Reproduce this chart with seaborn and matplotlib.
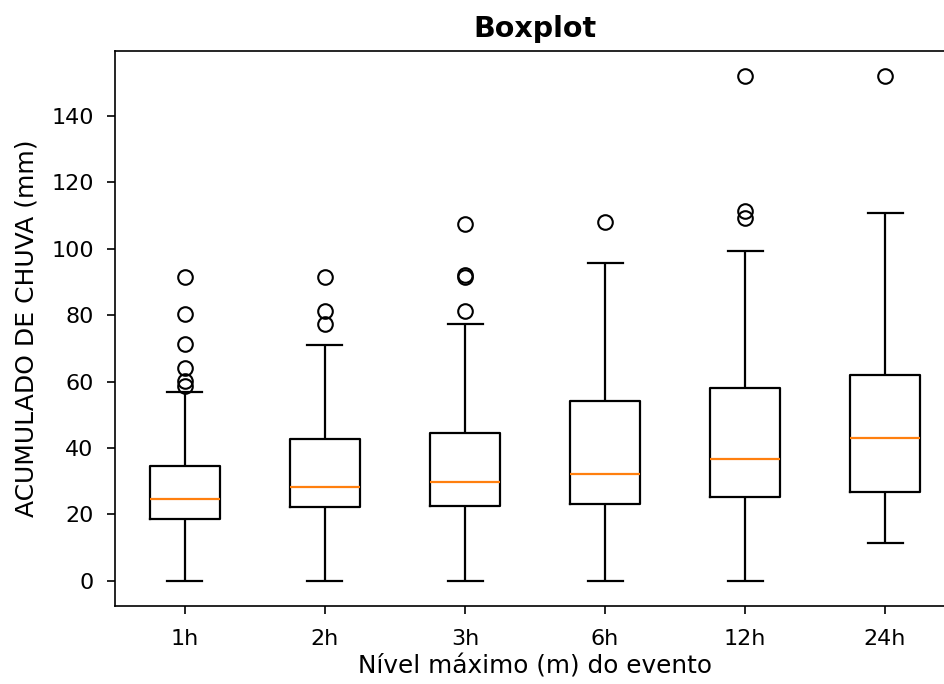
import numpy as np
import pandas as pd
import seaborn as sns
import matplotlib
matplotlib.use("Agg")
import matplotlib.pyplot as plt

# valores (mm)
duracoes = ["1h", "2h", "3h", "6h", "12h", "24h"]
bigode_inf = [0.0, 0.0, 0.0, 0.0, 0.0, 11.4]
q1 = [18.5, 22.2, 22.6, 23.0, 25.3, 26.9]
mediana = [24.5, 28.3, 29.8, 32.1, 36.8, 42.9]
q3 = [34.5, 42.7, 44.6, 54.3, 58.2, 61.9]
bigode_sup = [56.8, 71.0, 77.3, 95.7, 99.5, 110.9]
outliers_1h = [58.8, 60.3, 64.0, 71.4, 80.5, 91.5]
outliers_2h = [77.5, 81.2, 91.5]
outliers_3h = [81.3, 91.5, 92.2, 107.6]
outliers_6h = [108.0]
outliers_12h = [109.3, 111.5, 152.0]
outliers_24h = [152.0]
outliers = [outliers_1h, outliers_2h, outliers_3h, outliers_6h, outliers_12h, outliers_24h]

# amostra em que os quartis caem exatamente nos valores lidos (n = 4k+1)
rows = []
for i, d in enumerate(duracoes):
    topo = [bigode_sup[i]] + outliers[i]
    k = len(topo)
    valores = [bigode_inf[i]] + [q1[i]] * k + [mediana[i]] * k + [q3[i]] * k + topo
    for v in valores:
        rows.append({"duracao": d, "chuva": v})
df = pd.DataFrame(rows)

plt.rcParams["font.family"] = ["DejaVu Sans"]

fig = plt.figure(figsize=(9.44, 6.84), dpi=100)
ax = fig.add_axes([0.1218, 0.114, 0.8899, 0.8114])

lw = 1.6
sns.boxplot(data=df, x="duracao", y="chuva", order=duracoes, width=0.5,
            fill=False, color="black", linewidth=lw, whis=1.5, ax=ax,
            boxprops=dict(color="black", linewidth=lw),
            whiskerprops=dict(color="black", linewidth=lw),
            capprops=dict(color="black", linewidth=lw),
            medianprops=dict(color="#ff7f0e", linewidth=lw),
            flierprops=dict(marker="o", markersize=10.5, markerfacecolor="none",
                            markeredgecolor="black", markeredgewidth=1.5))

ax.set_title("Boxplot", fontsize=20.5, fontweight="bold", pad=10)
ax.set_xlabel("Nível máximo (m) do evento", fontsize=17.8, labelpad=4)
ax.set_ylabel("ACUMULADO DE CHUVA (mm)", fontsize=18, labelpad=9)
ax.set_yticks([0, 20, 40, 60, 80, 100, 120, 140])
ax.tick_params(labelsize=16, length=5.8, width=1.2)
ax.tick_params(axis="y", pad=9.5)
ax.tick_params(axis="x", pad=10.5)
for s in ax.spines.values():
    s.set_linewidth(1.2)
    s.set_color("black")

fig.savefig("out.png", dpi=100, facecolor="white")
